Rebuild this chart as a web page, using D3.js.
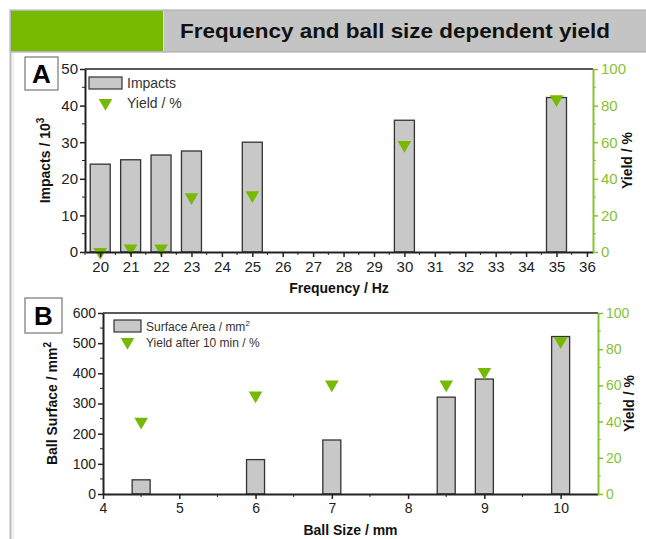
<!DOCTYPE html>
<html>
<head>
<meta charset="utf-8">
<script src="https://cdn.jsdelivr.net/npm/d3@7"></script>
<style>
  body { margin: 0; background: #fff; }
  text { font-family: "Liberation Sans", Arial, sans-serif; }
</style>
</head>
<body>
<div id="root"></div>
<script>
// panel A: frequency
const freqs = [20, 21, 22, 23, 25, 30, 35];
const impacts = [24, 25.2, 26.5, 27.6, 30, 36, 42.2];
const yieldA = [0, 2, 2, 30, 31, 58.5, 83.5];
const freqTicks = d3.range(20, 37);

// panel B: ball size
const ballSizes = [4.5, 6, 7, 8.5, 9, 10];
const surface = [47, 114, 179, 321, 381, 522];
const yieldB = [40, 54.5, 60.5, 60.5, 67.5, 84.5];
const sizeTicks = [4, 5, 6, 7, 8, 9, 10];

const width = 646, height = 539;
const green = "#77b800";
const axisGreen = "#86c232";

const svg = d3.select("#root")
  .append("svg")
  .attr("width", width)
  .attr("height", height)
  .attr("viewBox", [0, 0, width, height]);

// header
svg.append("rect").attr("x", 10).attr("y", 10).attr("width", 640).attr("height", 42)
  .attr("fill", "#c4c4c4").attr("stroke", "#aaa");
svg.append("rect").attr("x", 11).attr("y", 11).attr("width", 152).attr("height", 40)
  .attr("fill", green);
svg.append("line").attr("x1", 163.5).attr("x2", 163.5).attr("y1", 11).attr("y2", 51)
  .attr("stroke", "#ddd");
svg.append("text").attr("x", 180).attr("y", 38)
  .attr("font-size", 21).attr("font-weight", "bold").attr("fill", "#111")
  .attr("textLength", 430).attr("lengthAdjust", "spacingAndGlyphs")
  .text("Frequency and ball size dependent yield");

// frame border on the left
svg.append("line").attr("x1", 10.5).attr("x2", 10.5).attr("y1", 52).attr("y2", height)
  .attr("stroke", "#bbb").attr("stroke-width", 2);
svg.append("line").attr("x1", 13).attr("x2", 13).attr("y1", 52).attr("y2", height)
  .attr("stroke", "#e4e4e4").attr("stroke-width", 1);
svg.append("line").attr("x1", 11).attr("x2", width).attr("y1", 52.5).attr("y2", 52.5)
  .attr("stroke", "#ccc");

function panel(cfg) {
  const g = svg.append("g");
  const x = d3.scaleLinear().domain(cfg.xDomain).range([cfg.left, cfg.right]);
  const y = d3.scaleLinear().domain(cfg.yDomain).range([cfg.bottom, cfg.top]);
  const y2 = d3.scaleLinear().domain([0, 100]).range([cfg.bottom, cfg.top]);

  // top frame line
  g.append("line").attr("x1", cfg.left).attr("x2", cfg.right)
    .attr("y1", cfg.top).attr("y2", cfg.top).attr("stroke", "#222").attr("stroke-width", 1.5);

  // bars
  g.selectAll("rect.bar").data(cfg.xs).enter().append("rect")
    .attr("class", "bar")
    .attr("x", (d) => x(d) - cfg.barW / 2)
    .attr("width", cfg.barW)
    .attr("y", (d, i) => y(cfg.bars[i]))
    .attr("height", (d, i) => cfg.bottom - y(cfg.bars[i]))
    .attr("fill", "#c8c8c8").attr("stroke", "#333").attr("stroke-width", 1.3);

  // triangles
  const tri = d3.symbol().type(d3.symbolTriangle).size(cfg.triSize);
  g.selectAll("path.tri").data(cfg.xs).enter().append("path")
    .attr("class", "tri")
    .attr("d", tri)
    .attr("fill", green)
    .attr("transform", (d, i) => `translate(${x(d)},${y2(cfg.yields[i])}) rotate(180)`);

  // left axis
  const yAx = g.append("g").attr("transform", `translate(${cfg.left},0)`)
    .call(d3.axisLeft(y).tickValues(cfg.yTicks).tickSize(5).tickPadding(2).tickSizeOuter(0));
  yAx.append("g").selectAll("line").data(cfg.yMinor).enter().append("line")
    .attr("x1", 0).attr("x2", -3).attr("y1", (d) => y(d)).attr("y2", (d) => y(d))
    .attr("stroke", "#222");

  // bottom axis
  const xAx = g.append("g").attr("transform", `translate(0,${cfg.bottom})`)
    .call(d3.axisBottom(x).tickValues(cfg.xTicks).tickFormat(d3.format("d")).tickSize(5).tickPadding(4).tickSizeOuter(0));
  xAx.append("g").selectAll("line").data(cfg.xMinor).enter().append("line")
    .attr("x1", (d) => x(d)).attr("x2", (d) => x(d)).attr("y1", 0).attr("y2", 3)
    .attr("stroke", "#222");

  // right axis
  const rAx = g.append("g").attr("transform", `translate(${cfg.right},0)`)
    .call(d3.axisRight(y2).tickValues([0, 20, 40, 60, 80, 100]).tickSize(5).tickPadding(3).tickSizeOuter(0));
  rAx.append("g").selectAll("line").data([10, 30, 50, 70, 90]).enter().append("line")
    .attr("x1", 0).attr("x2", 3).attr("y1", (d) => y2(d)).attr("y2", (d) => y2(d))
    .attr("stroke", axisGreen);
  rAx.select(".domain").attr("stroke", axisGreen).attr("stroke-width", 2);
  rAx.selectAll(".tick line").attr("stroke", axisGreen).attr("stroke-width", 1.5);
  rAx.selectAll(".tick text").attr("fill", axisGreen);

  [yAx, xAx].forEach((a) => {
    a.select(".domain").attr("stroke", "#222").attr("stroke-width", 2);
    a.selectAll(".tick line").attr("stroke", "#222").attr("stroke-width", 1.5);
    a.selectAll(".tick text").attr("fill", "#222");
  });
  [yAx, xAx, rAx].forEach((a) => a.selectAll("text").attr("font-size", cfg.tickFont)
    .attr("font-family", "Liberation Sans, Arial, sans-serif"));

  // panel label box
  g.append("rect").attr("x", cfg.label.x).attr("y", cfg.label.y)
    .attr("width", cfg.label.w).attr("height", cfg.label.h)
    .attr("fill", "#fff").attr("stroke", "#777").attr("stroke-width", 1.2);
  g.append("text").attr("x", cfg.label.x + cfg.label.w / 2).attr("y", cfg.label.y + cfg.label.h / 2 + 9)
    .attr("text-anchor", "middle").attr("font-size", 26).attr("font-weight", "bold")
    .text(cfg.label.t);

  // axis titles
  const yt = g.append("text")
    .attr("transform", `translate(${cfg.yTitleX},${(cfg.top + cfg.bottom) / 2}) rotate(-90)`)
    .attr("text-anchor", "middle").attr("font-size", 14).attr("font-weight", "bold").attr("fill", "#111");
  yt.append("tspan").text(cfg.yTitle);
  yt.append("tspan").attr("dy", -6).attr("font-size", 10).text(cfg.yTitleSup);

  g.append("text")
    .attr("transform", `translate(${cfg.rTitleX},${(cfg.top + cfg.bottom) / 2}) rotate(-90)`)
    .attr("text-anchor", "middle").attr("font-size", 14).attr("font-weight", "bold").attr("fill", "#111")
    .text("Yield / %");

  g.append("text").attr("x", (cfg.left + cfg.right) / 2).attr("y", cfg.xTitleY)
    .attr("text-anchor", "middle").attr("font-size", 14).attr("font-weight", "bold").attr("fill", "#111")
    .text(cfg.xTitle);

  // legend
  const lg = cfg.legend;
  g.append("rect").attr("x", lg.x).attr("y", lg.y - 6).attr("width", lg.w).attr("height", 12)
    .attr("fill", "#c8c8c8").attr("stroke", "#333").attr("stroke-width", 1.2);
  g.append("path").attr("d", tri).attr("fill", green)
    .attr("transform", `translate(${lg.x + lg.w / 2},${lg.y + lg.gap}) rotate(180)`);
  const t1 = g.append("text").attr("x", lg.tx).attr("y", lg.y + 5)
    .attr("font-size", lg.font).attr("fill", "#333");
  t1.append("tspan").text(lg.t1);
  if (lg.t1sup) t1.append("tspan").attr("dy", -5).attr("font-size", lg.font - 4).text(lg.t1sup);
  g.append("text").attr("x", lg.tx).attr("y", lg.y + lg.gap + 5)
    .attr("font-size", lg.font).attr("fill", "#333").text(lg.t2);
}

panel({
  xs: freqs, bars: impacts, yields: yieldA,
  xDomain: [19.5, 36.2], yDomain: [0, 50],
  left: 85, right: 593, top: 69, bottom: 252,
  barW: 20, triSize: 80, tickFont: 15,
  xTicks: freqTicks, xMinor: d3.range(19.5, 36.5, 1),
  yTicks: [0, 10, 20, 30, 40, 50], yMinor: [5, 15, 25, 35, 45],
  label: { x: 25, y: 57, w: 33, h: 33, t: "A" },
  yTitle: "Impacts / 10", yTitleSup: "3", yTitleX: 50,
  rTitleX: 632, xTitle: "Frequency / Hz", xTitleY: 293,
  legend: { x: 89, y: 83, w: 33, gap: 20, tx: 127, font: 14, t1: "Impacts", t2: "Yield / %" }
});

panel({
  xs: ballSizes, bars: surface, yields: yieldB,
  xDomain: [4, 10.49], yDomain: [0, 600],
  left: 103, right: 598, top: 313, bottom: 494,
  barW: 18, triSize: 80, tickFont: 14,
  xTicks: sizeTicks, xMinor: [4.5, 5.5, 6.5, 7.5, 8.5, 9.5],
  yTicks: [0, 100, 200, 300, 400, 500, 600], yMinor: [50, 150, 250, 350, 450, 550],
  label: { x: 25, y: 298, w: 37, h: 35, t: "B" },
  yTitle: "Ball Surface / mm", yTitleSup: "2", yTitleX: 57,
  rTitleX: 634, xTitle: "Ball Size / mm", xTitleY: 535,
  legend: { x: 114, y: 326, w: 27, gap: 16, tx: 146, font: 12, t1: "Surface Area / mm", t1sup: "2", t2: "Yield after 10 min / %" }
});
</script>
</body>
</html>
